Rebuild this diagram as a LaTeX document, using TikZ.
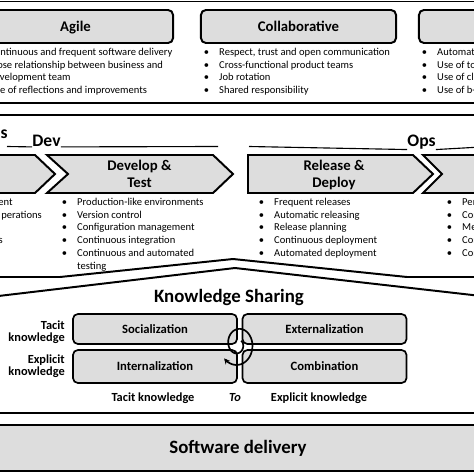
\documentclass[tikz,border=0pt]{standalone}
\usepackage{fontspec}
\setmainfont{Carlito}
\usetikzlibrary{arrows.meta}
\definecolor{boxgray}{RGB}{221,221,221}

\begin{document}
\begin{tikzpicture}[
    x=0.025cm, y=-0.025cm,
    bd/.style={line width=1.4pt},
    hd/.style={draw, line width=1.4pt, rounded corners=3.5pt, fill=boxgray,
      minimum width=4.875cm, minimum height=0.825cm, text depth=0pt,
      font=\fontsize{10.5}{12}\selectfont\bfseries},
    chev/.style={draw, line width=1.4pt, fill=boxgray},
    ctx/.style={font=\fontsize{10.5}{11.6}\selectfont\bfseries, align=center},
    qd/.style={draw, line width=1.2pt, rounded corners=3.5pt, fill=boxgray,
      minimum width=4.1cm, text depth=0pt, font=\fontsize{9}{10}\selectfont\bfseries},
    bl/.style={font=\fontsize{7.5}{9}\selectfont, anchor=base west, inner sep=0pt},
    grp/.style={font=\fontsize{12.5}{14}\selectfont\bfseries, anchor=base, inner sep=0pt},
    big/.style={font=\fontsize{13.4}{15}\selectfont\bfseries, anchor=base, inner sep=0pt},
    kl/.style={font=\fontsize{8.8}{8.5}\selectfont\bfseries, inner sep=0pt}
  ]
  \useasboundingbox (0,0) rectangle (474,474);
  \clip (0,0) rectangle (474,474);

  % top band: values
  \draw[bd] (-10,1.5) -- (490,1.5);
  \draw[bd] (-10,103) -- (490,103);
  \node[hd] (agile) at (75.5,26.5) {Agile};
  \node[hd] (collab) at (298.5,26.5) {Collaborative};
  \node[hd] (auto) at (516.5,26.5) {};
  \foreach \b/\t [count=\i] in {1/Continuous and frequent software delivery,
      1/Close relationship between business and, 0/development team,
      1/Use of reflections and improvements}
    \node[bl] (ag\i) at (-26.5, 55.5+12.7*\i-12.7) {\makebox[11pt][l]{\ifnum\b=1 \textbullet\fi}\t};
  \foreach \t [count=\i] in {{Respect, trust and open communication},
      Cross-functional product teams, Job rotation, Shared responsibility}
    \node[bl] (co\i) at (203.5, 55.5+12.7*\i-12.7) {\makebox[11pt][l]{\textbullet}\t};
  \foreach \t [count=\i] in {Automation, Use of tools, Use of cloud, Use of b-}
    \node[bl] (au\i) at (421.5, 55.5+12.7*\i-12.7) {\makebox[11pt][l]{\textbullet}\t};

  % middle band: practices
  \draw[bd] (-10,115) -- (490,115);
  \node[grp, anchor=base east] (pr) at (8,138) {s};
  \node[grp] (dev) at (46.5,146.5) {Dev};
  \node[grp] (ops) at (421.5,146.5) {Ops};
  \draw[line width=0.8pt] (7,146.5) -- (dev.south west);
  \draw[line width=0.8pt] (dev.south east) -- (218,146.5);
  \draw[line width=0.8pt] (249,146.5) -- (ops.south west);
  \draw[line width=0.8pt] (ops.south east) -- (490,146.5);

  \draw[chev] (-10,155) -- (35,155) -- (55,174) -- (35,193) -- (-10,193) -- cycle;
  \draw[chev] (47,155) -- (213,155) -- (233,174) -- (213,193) -- (47,193) -- (68,174) -- cycle;
  \draw[chev] (248,155) -- (413,155) -- (433,174) -- (413,193) -- (248,193) -- cycle;
  \draw[chev] (423,155) -- (490,155) -- (490,193) -- (423,193) -- (442,174) -- cycle;
  \node[ctx] (dt) at (139.5,174) {Develop \&\\Test};
  \node[ctx] (rd) at (334,175) {Release \&\\Deploy};

  \node[bl, anchor=base east] (pl1) at (13,205.5) {ent};
  \node[bl, anchor=base east] (pl2) at (42,218.2) {perations};
  \node[bl, anchor=base east] (pl4) at (3,243.6) {s};
  \foreach \b/\t [count=\i] in {1/Production-like environments, 1/Version control,
      1/Configuration management, 1/Continuous integration,
      1/Continuous and automated, 0/testing}
    \node[bl] (dv\i) at (61.5, 205.5+12.7*\i-12.7) {\makebox[11pt][l]{\ifnum\b=1 \textbullet\fi}\t};
  \foreach \t [count=\i] in {Frequent releases, Automatic releasing, Release planning,
      Continuous deployment, Automated deployment}
    \node[bl] (rl\i) at (258.5, 205.5+12.7*\i-12.7) {\makebox[11pt][l]{\textbullet}\t};
  \foreach \t [count=\i] in {Performance monitoring, Continuous monitoring, Measurement,
      Continuous feedback, Continuous improvement}
    \node[bl] (op\i) at (446.5, 205.5+12.7*\i-12.7) {\makebox[11pt][l]{\textbullet}\t};

  % roof between the bands
  \draw[bd, line join=round] (-10,277) -- (60,277) -- (233,259) -- (407,277) -- (490,277);
  \draw[bd, line join=round] (-10,297) -- (235,268) -- (490,297);

  % knowledge sharing
  \node[big] (ks) at (229,302) {Knowledge Sharing};
  \node[qd, minimum height=0.75cm] (soc) at (155,329) {Socialization};
  \node[qd, minimum height=0.825cm] (int) at (155,366.5) {Internalization};
  \node[qd, minimum height=0.75cm] (ext) at (324.5,329) {Externalization};
  \node[qd, minimum height=0.825cm] (comb) at (324.5,366.5) {Combination};
  \draw[line width=1.2pt, -{Stealth[length=4pt,width=4pt]}]
    plot[smooth, domain=320:860, samples=90]
    ({238+(4+(\x-320)*14/540)*cos(\x)}, {344+1.25*(4+(\x-320)*14/540)*sin(\x)});
  \node[kl, align=right, anchor=east] (tk) at (65,332) {Tacit\\knowledge};
  \node[kl, align=right, anchor=east] (ek) at (65,366.5) {Explicit\\knowledge};
  \node[kl, anchor=base] (tkb) at (153,401) {Tacit knowledge};
  \node[kl, anchor=base] (to) at (235,401) {\itshape To};
  \node[kl, anchor=base] (ekb) at (319,401) {Explicit knowledge};
  \draw[bd] (-10,413) -- (490,413);

  % bottom band
  \draw[bd, fill=boxgray] (-10,425) rectangle (490,471);
  \node[big] (sd) at (238,453) {Software delivery};
\end{tikzpicture}
\end{document}
